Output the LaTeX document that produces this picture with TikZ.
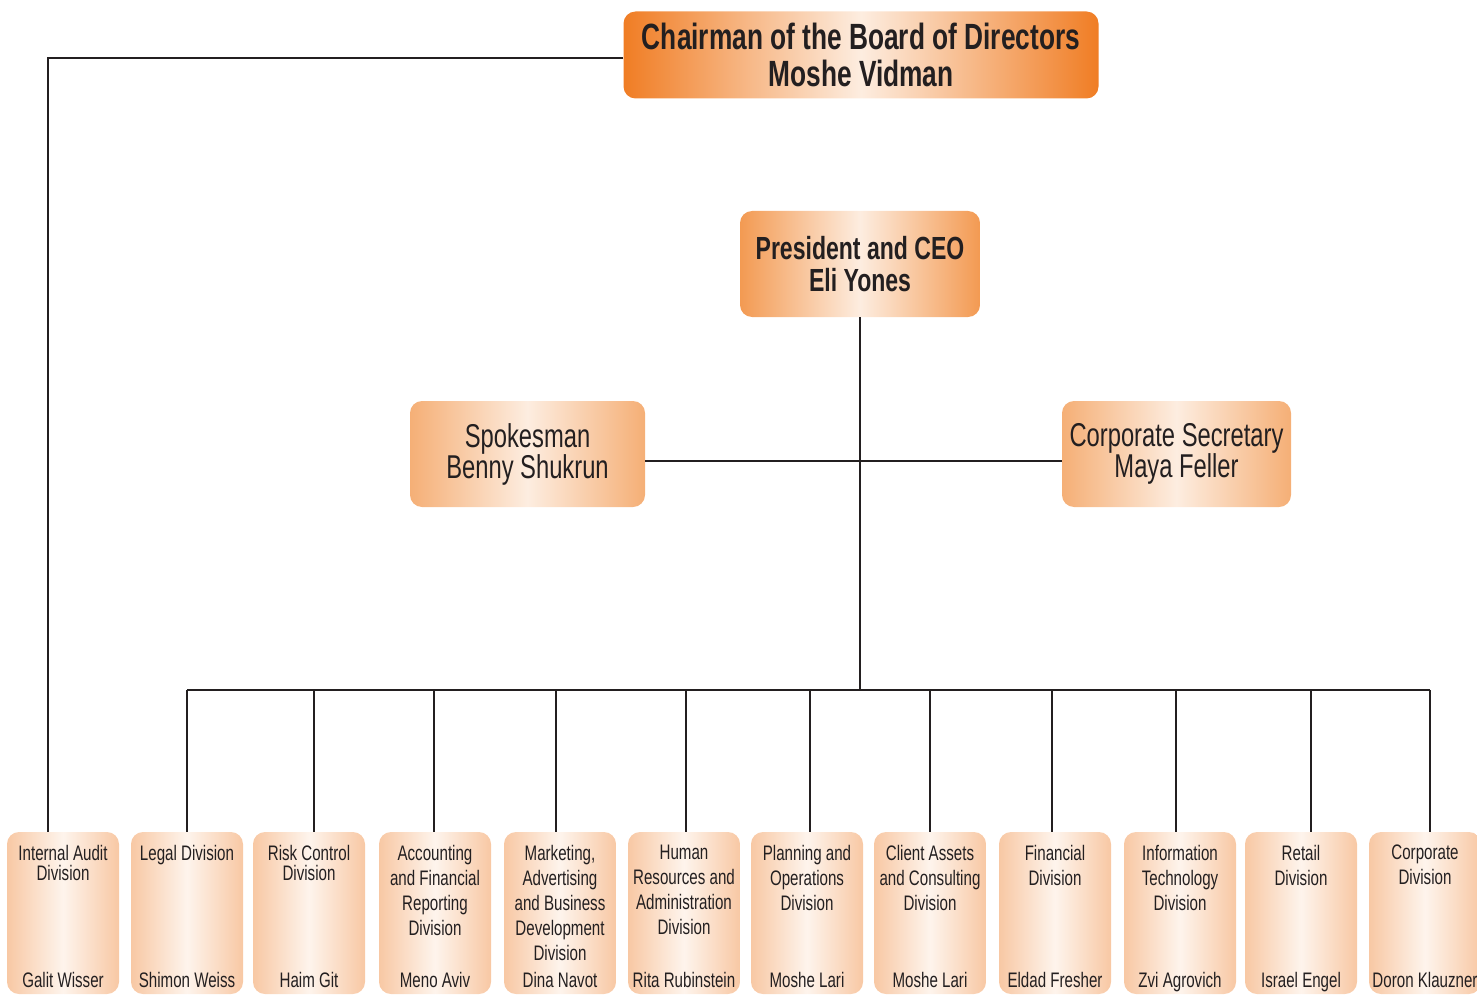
\documentclass[tikz,border=0pt]{standalone}
\usepackage{fontspec}
\setmainfont[FakeStretch=0.72]{Liberation Sans}

\definecolor{ink}{HTML}{231F20}
\definecolor{cream}{HTML}{FDEDE0}
\definecolor{chairedge}{HTML}{F07D24}
\definecolor{ceoedge}{HTML}{F39A52}
\definecolor{staffedge}{HTML}{F5AF76}
\definecolor{divedge}{HTML}{F8C8A4}

\tikzset{
	box/.style={rounded corners=12pt, inner sep=0pt, align=center, text=ink},
	chairbox/.style={box, minimum width=475pt, minimum height=87pt,
		left color=chairedge, right color=chairedge, middle color=cream,
		font=\bfseries\fontsize{36.5}{37}\selectfont},
	ceobox/.style={box, minimum width=240pt, minimum height=106pt,
		left color=ceoedge, right color=ceoedge, middle color=cream,
		font=\bfseries\fontsize{32}{32}\selectfont},
	staffbox/.style={box, minimum height=106pt,
		left color=staffedge, right color=staffedge, middle color=cream,
		font=\fontsize{33}{31}\selectfont},
	divbox/.style={box, minimum width=112pt, minimum height=162pt,
		left color=divedge, right color=divedge, middle color=cream!60!white},
	divtitle/.style={inner sep=0pt, align=center, text=ink, anchor=north,
		font=\fontsize{21}{25}\selectfont},
	divname/.style={inner sep=0pt, text=ink, anchor=base,
		font=\fontsize{21}{25}\selectfont},
	link/.style={draw=ink, line width=2.5pt}
}

\begin{document}
\begin{tikzpicture}[x=1pt, y=-1pt]
	\useasboundingbox (0,0) rectangle (1477,995);

	% top of the chart
	\node[chairbox] (chair) at (861,55) {Chairman of the Board of Directors\\Moshe Vidman};
	\node[ceobox] (ceo) at (860,264) {President and CEO\\Eli Yones};
	\node[staffbox, minimum width=235pt] (spokes) at (527.5,454) {Spokesman\\Benny Shukrun};
	\node[staffbox, minimum width=229pt] (secr) at (1176.5,454) {Corporate Secretary\\Maya Feller};

	% divisions
	\node[divbox] (d1) at (63,913) {};
	\node[divbox] (d2) at (187,913) {};
	\node[divbox] (d3) at (309,913) {};
	\node[divbox] (d4) at (435,913) {};
	\node[divbox] (d5) at (560,913) {};
	\node[divbox] (d6) at (684,913) {};
	\node[divbox] (d7) at (807,913) {};
	\node[divbox] (d8) at (930,913) {};
	\node[divbox] (d9) at (1055,913) {};
	\node[divbox] (d10) at (1180,913) {};
	\node[divbox] (d11) at (1301,913) {};
	\node[divbox] (d12) at (1425,913) {};

	\node[divtitle, font=\fontsize{21}{20}\selectfont] (t1) at ([yshift=-13pt]d1.north) {Internal Audit\\Division};
	\node[divtitle] (t2) at ([yshift=-13pt]d2.north) {Legal Division};
	\node[divtitle, font=\fontsize{21}{20}\selectfont] (t3) at ([yshift=-13pt]d3.north) {Risk Control\\Division};
	\node[divtitle] (t4) at ([yshift=-13pt]d4.north) {Accounting\\and Financial\\Reporting\\Division};
	\node[divtitle] (t5) at ([yshift=-13pt]d5.north) {Marketing,\\Advertising\\and Business\\Development\\Division};
	\node[divtitle] (t6) at ([yshift=-13pt]d6.north) {Human\\Resources and\\Administration\\Division};
	\node[divtitle] (t7) at ([yshift=-13pt]d7.north) {Planning and\\Operations\\Division};
	\node[divtitle] (t8) at ([yshift=-13pt]d8.north) {Client Assets\\and Consulting\\Division};
	\node[divtitle] (t9) at ([yshift=-13pt]d9.north) {Financial\\Division};
	\node[divtitle] (t10) at ([yshift=-13pt]d10.north) {Information\\Technology\\Division};
	\node[divtitle] (t11) at ([yshift=-13pt]d11.north) {Retail\\Division};
	\node[divtitle] (t12) at ([yshift=-13pt]d12.north) {Corporate\\Division};

	\node[divname] (n1) at ([yshift=7pt]d1.south) {Galit Wisser};
	\node[divname] (n2) at ([yshift=7pt]d2.south) {Shimon Weiss};
	\node[divname] (n3) at ([yshift=7pt]d3.south) {Haim Git};
	\node[divname] (n4) at ([yshift=7pt]d4.south) {Meno Aviv};
	\node[divname] (n5) at ([yshift=7pt]d5.south) {Dina Navot};
	\node[divname] (n6) at ([yshift=7pt]d6.south) {Rita Rubinstein};
	\node[divname] (n7) at ([yshift=7pt]d7.south) {Moshe Lari};
	\node[divname] (n8) at ([yshift=7pt]d8.south) {Moshe Lari};
	\node[divname] (n9) at ([yshift=7pt]d9.south) {Eldad Fresher};
	\node[divname] (n10) at ([yshift=7pt]d10.south) {Zvi Agrovich};
	\node[divname] (n11) at ([yshift=7pt]d11.south) {Israel Engel};
	\node[divname] (n12) at ([yshift=7pt]d12.south) {Doron Klauzner};

	% reporting lines
	\coordinate (bus) at (860,690);
	\draw[link] ([yshift=-3pt]chair.west) -| ([xshift=-15pt]d1.north);
	\draw[link] (ceo.south) -- (bus);
	\draw[link] ([yshift=-7pt]spokes.east) -- ([yshift=-7pt]secr.west);
	% drops are not quite centred on their boxes
	\foreach \n/\dx in {2/0,3/5,4/-1,5/-4,6/2,7/3,8/0,9/-3,10/-4,11/10,12/5} {
		\coordinate (top\n) at ([xshift=\dx pt]d\n.north);
		\draw[link] (bus -| top\n) -- (top\n);
	}
	\draw[link] (bus -| top2) -- (bus -| top12);
\end{tikzpicture}
\end{document}
